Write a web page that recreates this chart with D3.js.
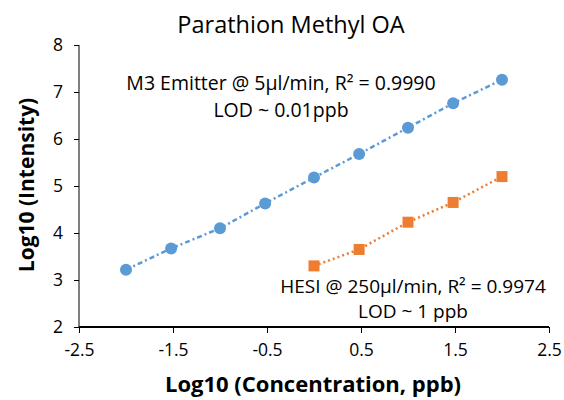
<!DOCTYPE html>
<html><head><meta charset="utf-8">
<script src="https://cdn.jsdelivr.net/npm/d3@7"></script>
<style>body{margin:0;background:#fff}svg{display:block}text{font-family:"Open Sans",sans-serif}</style>
</head><body><svg id="c" width="564" height="400"></svg>
<script>
const m3X = [-2, -1.52, -1, -0.52, 0, 0.48, 1, 1.48, 2];
const m3Y = [3.22, 3.67, 4.10, 4.63, 5.18, 5.68, 6.24, 6.76, 7.26];
const hesiX = [0, 0.48, 1, 1.48, 2];
const hesiY = [3.30, 3.65, 4.23, 4.65, 5.20];
const xTicks = [-2.5, -1.5, -0.5, 0.5, 1.5, 2.5];
const yTicks = [2, 3, 4, 5, 6, 7, 8];
const title = "Parathion Methyl OA";
const xTitle = "Log10 (Concentration, ppb)";
const yTitle = "Log10 (Intensity)";
const m3Label = ["M3 Emitter @ 5µl/min, R² = 0.9990", "LOD ~ 0.01ppb"];
const hesiLabel = ["HESI @ 250µl/min, R² = 0.9974", "LOD ~ 1 ppb"];

const svg = d3.select("#c");
const x = d3.scaleLinear().domain([-2.5, 2.5]).range([79, 549]);
const y = d3.scaleLinear().domain([2, 8]).range([327, 45]);

const xa = svg.append("g").attr("transform", "translate(0,327)")
  .call(d3.axisBottom(x).tickValues(xTicks).tickSize(6).tickPadding(11).tickFormat(d => String(d)));
const ya = svg.append("g").attr("transform", "translate(79,0)")
  .call(d3.axisLeft(y).tickValues(yTicks).tickSize(5).tickPadding(11).tickFormat(d => String(d)));
[xa, ya].forEach(a => {
  a.selectAll("text").attr("font-size", 17.5).attr("fill", "#000").style("font-family", "Open Sans");
  a.selectAll("line").attr("stroke", "#000");
});
xa.select(".domain").attr("stroke", "#000").attr("stroke-width", 2).attr("d", "M79,0H549");
ya.select(".domain").attr("stroke", "#000").attr("d", "M0,45V327");

const line = d3.line().x(d => x(d[0])).y(d => y(d[1]));
const m3 = m3X.map((v, i) => [v, m3Y[i]]);
const hesi = hesiX.map((v, i) => [v, hesiY[i]]);

svg.append("path").datum(m3).attr("d", line).attr("fill", "none")
  .attr("stroke", "#5B9BD5").attr("stroke-width", 2.5).attr("stroke-dasharray", "5,3,2,3");
svg.append("path").datum(hesi).attr("d", line).attr("fill", "none")
  .attr("stroke", "#ED7D31").attr("stroke-width", 2.5).attr("stroke-dasharray", "2,3");

svg.selectAll(".m3").data(m3).enter().append("circle")
  .attr("cx", d => x(d[0])).attr("cy", d => y(d[1])).attr("r", 6).attr("fill", "#5B9BD5");
svg.selectAll(".hs").data(hesi).enter().append("rect")
  .attr("x", d => x(d[0]) - 5.5).attr("y", d => y(d[1]) - 5.5).attr("width", 11).attr("height", 11)
  .attr("fill", "#ED7D31");

svg.append("text").attr("x", 291).attr("y", 33).attr("text-anchor", "middle")
  .attr("font-size", 23.5).text(title);
svg.append("text").attr("x", 313).attr("y", 392).attr("text-anchor", "middle")
  .attr("font-size", 22).attr("font-weight", "bold").text(xTitle);
svg.append("text").attr("transform", "translate(34,185) rotate(-90)").attr("text-anchor", "middle")
  .attr("font-size", 21).attr("font-weight", "bold").text(yTitle);

m3Label.forEach((t, i) => svg.append("text").attr("x", 281).attr("y", 90 + i * 27)
  .attr("text-anchor", "middle").attr("font-size", 19.5).text(t));
hesiLabel.forEach((t, i) => svg.append("text").attr("x", 413).attr("y", 293 + i * 25)
  .attr("text-anchor", "middle").attr("font-size", 19).text(t));
</script></body></html>
